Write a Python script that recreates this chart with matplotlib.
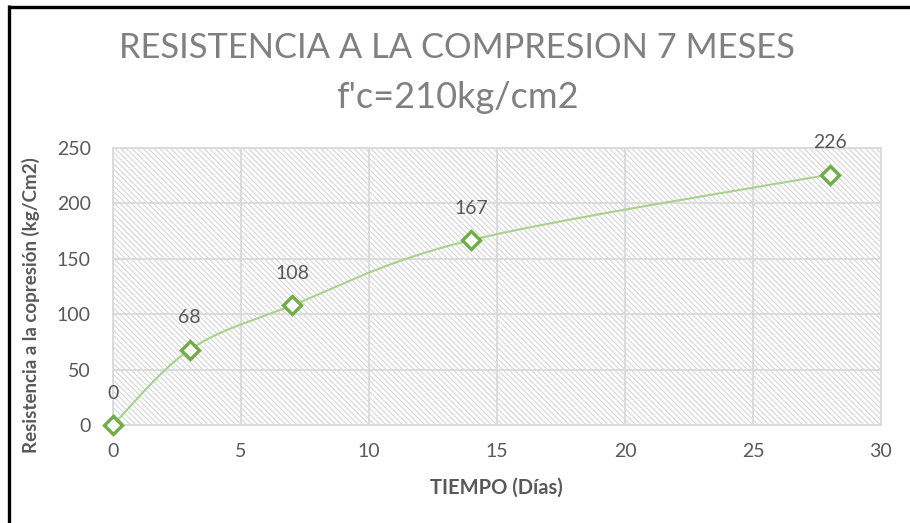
import numpy as np
import matplotlib
matplotlib.use("Agg")
import matplotlib.pyplot as plt
from matplotlib.lines import Line2D
from matplotlib.patches import Rectangle

# Data: compressive strength over curing time
dias = [0, 3, 7, 14, 28]
resistencia = [0, 68, 108, 167, 226]
x_ticks = [0, 5, 10, 15, 20, 25, 30]
y_ticks = [0, 50, 100, 150, 200, 250]

titulo_1 = "RESISTENCIA A LA COMPRESION 7 MESES"
titulo_2 = "f'c=210kg/cm2"
x_label = "TIEMPO (Días)"
y_label = "Resistencia a la copresión (kg/Cm2)"

TEXT = "#595959"
GRID = "#D9D9D9"
HATCH = "#D6D6D6"
LINE = "#A9D18E"
MARK = "#70AD47"

plt.rcParams['font.family'] = ['Lato', 'DejaVu Sans']
plt.rcParams['hatch.linewidth'] = 0.8


def smooth_curve(x, y, n=40):
    """Cardinal-spline style smoothing through the points (Bezier segments)."""
    x = np.asarray(x, float)
    y = np.asarray(y, float)
    px, py = [], []
    k = 1.0 / 6.0
    for i in range(len(x) - 1):
        x0, y0 = (x[i - 1], y[i - 1]) if i > 0 else (x[i], y[i])
        x1, y1 = x[i], y[i]
        x2, y2 = x[i + 1], y[i + 1]
        x3, y3 = (x[i + 2], y[i + 2]) if i + 2 < len(x) else (x[i + 1], y[i + 1])
        c1x, c1y = x1 + (x2 - x0) * k, y1 + (y2 - y0) * k
        c2x, c2y = x2 - (x3 - x1) * k, y2 - (y3 - y1) * k
        t = np.linspace(0, 1, n)
        bx = (1 - t) ** 3 * x1 + 3 * (1 - t) ** 2 * t * c1x + 3 * (1 - t) * t ** 2 * c2x + t ** 3 * x2
        by = (1 - t) ** 3 * y1 + 3 * (1 - t) ** 2 * t * c1y + 3 * (1 - t) * t ** 2 * c2y + t ** 3 * y2
        px.extend(bx)
        py.extend(by)
    return np.array(px), np.array(py)


W, H = 910, 523
fig = plt.figure(figsize=(W / 100, H / 100), dpi=100)
fig.patch.set_facecolor("white")
ax = fig.add_axes([113 / W, 1 - 425 / H, (881 - 113) / W, (425 - 148) / H])

ax.set_xlim(0, 30)
ax.set_ylim(0, 250)

# hatched plot area
ax.set_facecolor("white")
ax.add_patch(Rectangle((0, 0), 1, 1, transform=ax.transAxes, facecolor="white",
                       edgecolor=HATCH, linewidth=0, hatch="\\\\\\\\\\\\", zorder=0.5))

ax.set_xticks(x_ticks)
ax.set_yticks(y_ticks)
ax.grid(True, color=GRID, linewidth=1.3, zorder=1)
ax.set_axisbelow(True)
for s in ax.spines.values():
    s.set_color(GRID)
    s.set_linewidth(1.3)
ax.tick_params(length=0, labelsize=14, labelcolor=TEXT)
ax.tick_params(axis='x', pad=13)
ax.tick_params(axis='y', pad=16)

sx, sy = smooth_curve(dias, resistencia)
ax.plot(sx, sy, color=LINE, linewidth=1.5, zorder=3, clip_on=False)
ax.plot(dias, resistencia, linestyle="none", marker="D", markersize=9.5,
        markerfacecolor="white", markeredgecolor=MARK, markeredgewidth=2.4,
        zorder=4, clip_on=False)

for xv, yv in zip(dias, resistencia):
    ax.annotate(str(yv), (xv, yv), xytext=(0, 23), textcoords="offset points",
                ha="center", va="center", fontsize=14, color=TEXT)

fig.text(496 / W, 1 - 488 / H, x_label, ha="center", va="center",
         fontsize=14.5, fontweight="bold", color=TEXT)
fig.text(31 / W, 1 - 305 / H, y_label, rotation=90, ha="center", va="center",
         fontsize=13.5, fontweight="bold", color=TEXT)

fig.text(457 / W, 1 - 48 / H, titulo_1, ha="center", va="center",
         fontsize=24.8, color="#808080")
fig.text(457 / W, 1 - 97 / H, titulo_2, ha="center", va="center",
         fontsize=26, color="#808080")

# black frame on left and top
fig.add_artist(Line2D([9 / W, 9 / W], [0, 1 - 5 / H], transform=fig.transFigure,
                      color="black", linewidth=2.4, solid_capstyle="butt"))
fig.add_artist(Line2D([7.5 / W, 1], [1 - 6.5 / H, 1 - 6.5 / H], transform=fig.transFigure,
                      color="black", linewidth=2.4, solid_capstyle="butt"))

fig.savefig("out.png", dpi=100, facecolor="white")
